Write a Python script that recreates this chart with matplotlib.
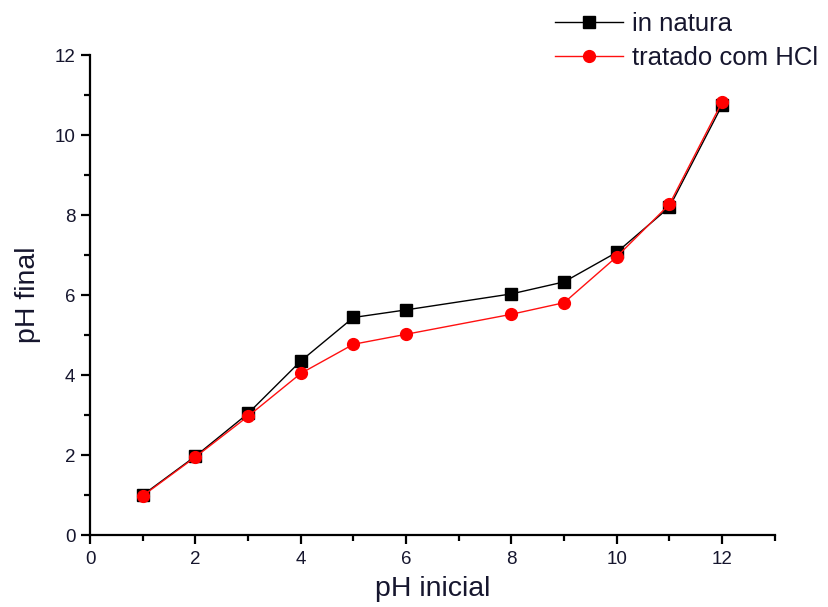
import matplotlib
matplotlib.use("Agg")
import matplotlib.pyplot as plt
from matplotlib.ticker import MultipleLocator

plt.rcParams['font.family'] = ['Liberation Sans', 'DejaVu Sans']

ph_inicial = [1, 2, 3, 4, 5, 6, 8, 9, 10, 11, 12]
in_natura = [1.00, 1.97, 3.04, 4.35, 5.44, 5.63, 6.03, 6.33, 7.07, 8.20, 10.75]
tratado_hcl = [0.98, 1.95, 2.97, 4.04, 4.77, 5.02, 5.52, 5.81, 6.96, 8.27, 10.83]

text_color = '#16162e'

fig = plt.figure(figsize=(8.29, 6.07), dpi=100)
ax = fig.add_axes([0.1086, 0.1186, 0.826, 0.7905])

ax.plot(ph_inicial, in_natura, color='black', lw=1.0, marker='s', ms=8,
        mfc='black', mec='black', label='in natura', zorder=3)
ax.plot(ph_inicial, tratado_hcl, color='#ff1010', lw=1.0, marker='o', ms=8.5,
        mfc='#ff0000', mec='#ff0000', label='tratado com HCl', zorder=4)

ax.set_xlim(0, 13)
ax.set_ylim(0, 12)
ax.xaxis.set_major_locator(MultipleLocator(2))
ax.xaxis.set_minor_locator(MultipleLocator(1))
ax.yaxis.set_major_locator(MultipleLocator(2))
ax.yaxis.set_minor_locator(MultipleLocator(1))

for side in ('top', 'right'):
    ax.spines[side].set_visible(False)
for side in ('left', 'bottom'):
    ax.spines[side].set_linewidth(1.6)

ax.tick_params(which='major', direction='out', length=6.5, width=1.6,
               labelsize=13.5, labelcolor=text_color, pad=4)
ax.tick_params(which='minor', direction='out', length=4.0, width=1.6)
ax.tick_params(axis='x', which='major', pad=5)

ax.set_xlabel('pH inicial', fontsize=20.5, color=text_color, labelpad=6)
ax.set_ylabel('pH final', fontsize=20.5, color=text_color, labelpad=10)

leg = ax.legend(loc='upper left', bbox_to_anchor=(0.669, 0.98),
                bbox_transform=fig.transFigure, frameon=False,
                fontsize=18.5, borderpad=0, borderaxespad=0,
                handlelength=2.65, handletextpad=0.35, labelspacing=0.4)
for t in leg.get_texts():
    t.set_color(text_color)

fig.savefig('out.png', dpi=100)
